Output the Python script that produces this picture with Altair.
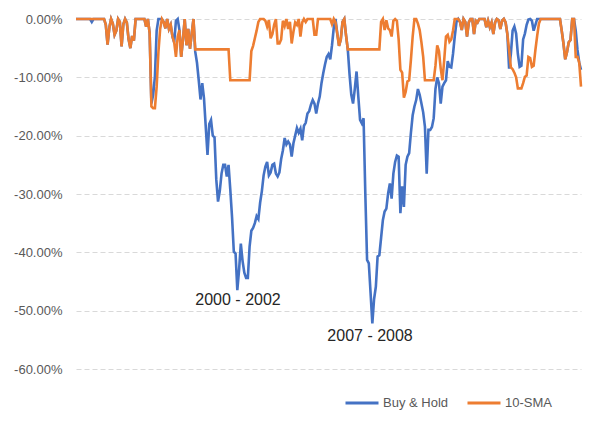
import altair as alt
import pandas as pd

# Monthly drawdowns (%), index 0 = first month of the series
months = list(range(289))

buy_hold = [
    0, 0, 0, 0, 0, 0, 0, 0, 0, -0.5, 0, 0, 0, 0, 0, 0, 0,
    -1.0, -4.4, -1.5, 0, -0.8, -2.7, -2.0, 0, -0.5, -4.7, -0.9, 0, -0.6, -3.5, -5.0, -2.9, -3.7,
    0, 0, 0, 0, 0, 0, -1.3, 0, -2.4,
    -14.5, -13.0, -9.9, -2.0, 0, 0, 0, -0.5, -1.6, 0, -1.7, -1.0, -3.0, -4.0, -0.3, 0, -1.9,
    -6.5, -3.5, 0, -4.5, -1.7, -5.1, -2.5, 0, -5.6,
    -7.5, -10.5, -13.8, -11.0, -13.6, -18.5, -23.3, -18.0, -17.3, -20.0, -20.3, -27.5, -31.3,
    -29.5, -26.5, -25.0, -25.0, -27.0, -25.0, -29.3, -34.0, -39.9, -40.2, -46.5, -43.0, -38.5,
    -41.5, -43.5, -44.4, -44.4, -39.0, -36.3, -35.8, -35.0, -33.8, -34.3,
    -31.5, -29.5, -26.8, -25.3, -24.5, -26.8, -26.3, -25.0, -24.8, -26.5, -27.0, -26.3, -24.0,
    -22.5, -20.4, -21.5, -21.0, -21.5, -23.6, -21.3, -20.0, -18.7, -19.5, -18.8, -20.8, -18.3,
    -17.8, -16.2, -15.8, -14.7, -13.9, -14.5, -16.2, -14.5, -13.3, -11.0, -9.3, -7.8, -6.5,
    -6.0, -6.9, -4.5, -1.5, 0, -2.5, -4.6, -3.5, -0.5, 0, -2.8,
    -5.2, -9.5, -13.0, -14.5, -12.0, -9.0, -13.3, -17.3, -17.9, -17.0, -30.0, -41.3, -41.9,
    -47.0, -52.2, -48.0, -45.9, -40.7, -40.5, -37.5, -34.5, -33.0, -32.5, -29.9, -28.2, -30.8,
    -26.5, -24.5, -23.4, -23.6, -33.3, -28.7, -32.2, -25.0, -23.6, -23.0, -19.5, -16.5, -15.0,
    -13.9, -12.0, -13.0, -14.5, -16.0, -18.5, -26.5, -19.0, -19.0, -18.5, -17.0, -12.0, -10.0,
    -11.0, -14.5, -11.6, -11.0, -10.5, -7.2, -8.2, -8.3, -6.0, -3.0, -0.5, 0,
    -0.5, -1.9, 0, -0.5, -3.0, -0.6, 0, 0, -2.6, -0.3, -0.6, 0, 0, 0, 0, -1.4, -0.3, -1.4,
    -0.6, -2.6, -0.6, 0, -0.2, -1.7, -0.3, 0, -0.6, -2.6,
    -8.5, -6.0, -2.0, -1.3, -2.5, -6.0, -8.2, -8.0, -3.5, -2.5, -1.0, -0.1, 0, -0.3, -2.0,
    -1.0, 0, 0,
    0, 0, 0, 0, 0, 0, 0, 0, 0, 0, 0, 0,
    -2.0, -4.2, -6.9, -5.7, -4.0, -3.6, 0, 0,
    -2.0, -5.3, -7.5, -8.7,
]

sma_10 = [
    0, 0, 0, 0, 0, 0, 0, 0, 0, 0, 0, 0, 0, 0, 0, 0, 0,
    -1.0, -4.4, -1.5, 0, -0.8, -2.7, -2.0, 0, -0.5, -4.7, -0.9, 0, -0.6, -3.5, -5.0, -2.9, -3.7,
    0, 0, 0, 0, 0, 0, -1.3, 0, -2.4,
    -15.0, -15.3, -15.3, -11.6, -5.7, -1.7, 0, -0.5, -1.6, 0, -1.7, -1.0, -3.0, -4.0, -6.5,
    -3.0, -1.9, -6.5, -3.5, 0, -4.5, -1.7, -5.1, -2.5, 0,
    -5.2, -5.2, -5.2, -5.2, -5.2, -5.2, -5.2, -5.2, -5.2, -5.2,
    -5.2, -5.2, -5.2, -5.2, -5.2, -5.2, -5.2, -5.2, -5.2, -5.2,
    -10.5, -10.5, -10.5, -10.5, -10.5, -10.5, -10.5, -10.5, -10.5, -10.5, -10.5, -10.5,
    -5.5, -4.6, -3.3, -2.0, -0.5, 0, 0, 0, -0.3, -1.3, -0.2, -3.3, -2.6, -1.0, 0, -4.2, -4.2,
    -3.5, -0.3, -1.2, 0, -1.7, -0.5, -4.2, -2.2, -0.6, -1.0, 0, -3.0, -0.6, 0, -0.5,
    0, 0, 0, 0, -2.7, -2.7, 0, 0, 0, 0, 0, 0, 0, 0, -0.9, 0, -0.6, -2.5, -4.6, -3.5, -0.5, 0, -2.8,
    -5.2, -5.2, -5.2, -5.2, -5.2, -5.2, -5.2, -5.2, -5.2, -5.2,
    -5.2, -5.2, -5.2, -5.2, -5.2, -5.2, -5.2, -5.2, -5.2,
    -0.5, 0, -1.9, -0.2, -1.6, -1.9, -3.0, -0.3, 0, -0.3, -3.5, -8.7, -9.2, -13.5, -12.5,
    -10.7, -10.5, -7.0, -3.0, 0, 0, -0.8, -1.9, -4.0, -6.5,
    -10.5, -10.5, -10.5, -10.5, -10.5, -10.5,
    -8.0, -4.5, -5.5, -8.5, -10.5, -7.0, -3.0, -2.7, -3.9, -3.5, -2.0, 0, 0, 0,
    -0.5, -1.9, 0, -0.5, -3.0, -0.6, 0, 0, -2.6, -0.3, -0.6, 0, 0, 0, 0, -1.4, -0.3, -1.4,
    -0.6, -2.6, -0.6, 0, -0.2, -1.7, -0.3, 0, -0.6, -2.6,
    -5.3, -8.3, -8.6, -9.2, -10.0, -11.9, -11.9, -11.9, -11.0, -9.9, -9.7, -6.5, -6.7, -8.2,
    -8.0, -5.3, -2.9, -0.8,
    0, 0, 0, 0, 0, 0, 0, 0, 0, 0, 0, 0,
    -2.0, -4.2, -6.9, -5.7, -4.0, -3.6, 0, 0,
    -6.5, -6.5, -7.5, -11.6,
]

series_names = ["Buy & Hold", "10-SMA"]
series_colors = ["#4472C4", "#ED7D31"]
y_ticks = [0, -0.1, -0.2, -0.3, -0.4, -0.5, -0.6]

note_labels = ["2000 - 2002", "2007 - 2008"]
note_month = [92.4, 167.7]
note_value = [-48.2, -54.3]

df_b = pd.DataFrame({"m": months, "v": [v / 100 for v in buy_hold], "s": series_names[0]})
df_s = pd.DataFrame({"m": months, "v": [v / 100 for v in sma_10], "s": series_names[1]})
df_n = pd.DataFrame({"t": note_labels, "m": note_month, "v": [v / 100 for v in note_value]})

FONT = "Liberation Sans"

x_enc = alt.X("m:Q", scale=alt.Scale(domain=[0, 288], nice=False, zero=False), axis=None)
y_enc = alt.Y(
    "v:Q",
    scale=alt.Scale(domain=[-0.6, 0], nice=False, zero=False),
    axis=alt.Axis(
        values=y_ticks,
        labelExpr="replace(format(datum.value, '.2%'), '\u2212', '-')",
        title=None,
        domain=False,
        ticks=False,
        grid=True,
        gridColor="#d9d9d9",
        gridDash=[5, 3],
        gridWidth=1,
        labelPadding=14,
        labelColor="#595959",
        labelFont=FONT,
        labelFontSize=13,
    ),
)

color_enc = alt.Color(
    "s:N",
    scale=alt.Scale(domain=series_names, range=series_colors),
    legend=alt.Legend(
        title=None,
        orient="none",
        legendX=268,
        legendY=366,
        direction="horizontal",
        symbolType="stroke",
        symbolSize=1089,
        symbolStrokeWidth=3,
        labelFont=FONT,
        labelFontSize=13,
        labelColor="#595959",
        labelOffset=3,
        columnPadding=12,
    ),
)

blue = alt.Chart(df_b).mark_line(strokeWidth=2.6).encode(x=x_enc, y=y_enc, color=color_enc)
orange = alt.Chart(df_s).mark_line(strokeWidth=2.6).encode(x=x_enc, y=y_enc, color=color_enc)
notes = alt.Chart(df_n).mark_text(
    font=FONT, fontSize=16, color="#262626", align="center", baseline="middle"
).encode(x="m:Q", y="v:Q", text="t:N")

chart = (
    alt.layer(blue, orange, notes)
    .properties(
        width=505,
        height=350,
        padding={"left": 68, "top": 11, "right": 11, "bottom": 51},
        autosize=alt.AutoSizeParams(type="none"),
        background="white",
    )
    .configure_view(stroke=None)
)

chart.save("out.html", embed_options={"renderer": "svg", "actions": False})
